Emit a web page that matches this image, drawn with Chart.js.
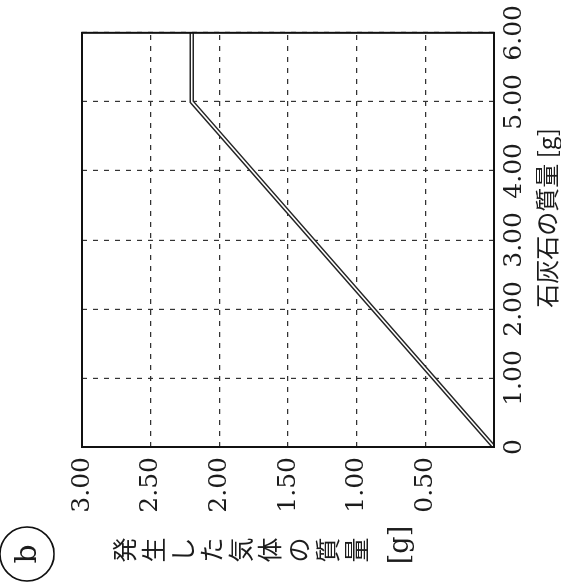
<!DOCTYPE html>
<html>
<head>
<meta charset="utf-8">
<script src="https://cdn.jsdelivr.net/npm/chart.js@4"></script>
<style>
  html, body { margin: 0; padding: 0; background: #fff; overflow: hidden; }
  /* the scanned figure lies on its side, so draw upright and turn the whole sheet */
  #page { position: absolute; left: 0; top: 0; width: 587px; height: 561px;
          transform-origin: 0 0; transform: translate(0, 587px) rotate(-90deg); }
</style>
</head>
<body>
<div id="page"><canvas id="gasChart" width="587" height="561"></canvas></div>
<script>
// values
const limestoneMass = [0, 5.0, 6.0];   // 石灰石の質量 [g]
const gasMass = [0, 2.2, 2.2];         // 発生した気体の質量 [g]
const xTicks = [0, 1, 2, 3, 4, 5, 6];
const yTicks = [0, 0.5, 1, 1.5, 2, 2.5, 3];
const xTitle = '石灰石の質量 [g]';
const yTitle = ['発', '生', 'し', 'た', '気', '体', 'の', '質', '量'];
const yUnit = '[g]';
const figLabel = 'b';

const points = limestoneMass.map((m, i) => ({ x: m, y: gasMass[i] }));

const ink = '#1c1c1c';
const tickFont = { family: 'DejaVu Serif', size: 25 };

// frame, axis titles (the y one is written vertically) and the circled letter
const extras = {
  id: 'extras',
  afterDraw(chart) {
    const ctx = chart.ctx, a = chart.chartArea;
    ctx.save();
    ctx.strokeStyle = '#111';
    ctx.lineWidth = 2;
    ctx.strokeRect(a.left, a.top, a.right - a.left, a.bottom - a.top);

    ctx.fillStyle = ink;
    ctx.textAlign = 'center';
    ctx.textBaseline = 'middle';
    ctx.font = '24px "Noto Sans CJK JP"';
    ctx.fillText(xTitle, (a.left + a.right) / 2 + 22, a.bottom + 53);

    ctx.font = '25px "Noto Sans CJK JP"';
    yTitle.forEach((c, i) => ctx.fillText(c, a.left - 103, a.top + 42 + i * 29));
    ctx.font = '27px "DejaVu Serif"';
    ctx.fillText(yUnit, a.left - 98, a.top + 319);

    ctx.beginPath();
    ctx.arc(33, 27, 27, 0, Math.PI * 2);
    ctx.lineWidth = 1.6;
    ctx.stroke();
    ctx.font = '30px "DejaVu Serif"';
    ctx.fillText(figLabel, 33, 28);
    ctx.restore();
  }
};

const ctx = document.getElementById('gasChart').getContext('2d');
const chart = new Chart(ctx, {
  type: 'scatter',
  data: {
    datasets: [
      { data: points, showLine: true, borderColor: '#fff', borderWidth: 1.5, pointRadius: 0 },
      { data: points, showLine: true, borderColor: '#262626', borderWidth: 4.5, pointRadius: 0 }
    ]
  },
  options: {
    responsive: false,
    animation: false,
    layout: { padding: { top: 82, right: 31, left: 0, bottom: 0 } },
    plugins: { legend: { display: false }, tooltip: { enabled: false } },
    scales: {
      x: {
        type: 'linear', min: 0, max: 6,
        afterBuildTicks: s => { s.ticks = xTicks.map(v => ({ value: v })); },
        afterFit: s => { s.height = 67; },
        grid: { color: '#333', lineWidth: 1.2, drawTicks: false },
        border: { display: false, dash: [5, 6] },
        ticks: {
          padding: 5, color: ink, font: tickFont, maxRotation: 0, autoSkip: false,
          callback: v => v === 0 ? '0' : v.toFixed(2)
        }
      },
      y: {
        type: 'linear', min: 0, max: 3,
        afterBuildTicks: s => { s.ticks = yTicks.map(v => ({ value: v })); },
        afterFit: s => { s.width = 140; },
        grid: { color: '#333', lineWidth: 1.2, drawTicks: false },
        border: { display: false, dash: [5, 6] },
        ticks: {
          padding: 10, color: ink, font: tickFont,
          callback: v => v === 0 ? '' : v.toFixed(2)
        }
      }
    }
  },
  plugins: [extras]
});
</script>
</body>
</html>
